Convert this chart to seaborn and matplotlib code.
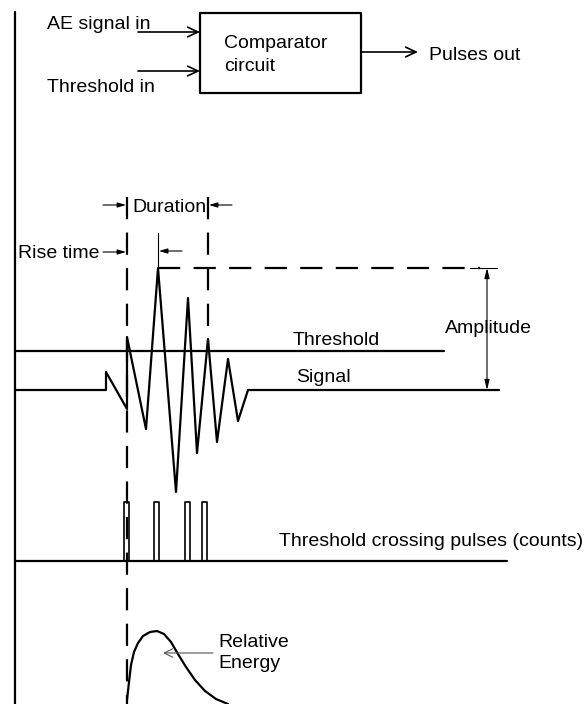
import matplotlib
matplotlib.use("Agg")
import matplotlib.pyplot as plt
import seaborn as sns
import pandas as pd

sns.set_theme(style="white")
plt.rcParams['font.family'] = ['Liberation Sans', 'DejaVu Sans']
plt.rcParams['text.color'] = 'black'

# ---- data (diagram coordinates, pixel space) ----
signal_t = [15, 106, 106, 127, 127, 146, 158, 176, 188, 197, 208, 217, 228, 238, 248, 499]
signal_v = [390, 390, 372, 409, 337, 429, 268, 492, 298, 453, 339, 442, 359, 421, 390, 390]
threshold_level = 351
pulse_starts = [124, 154, 185, 202]
pulse_width = 5
pulse_top = 502
pulse_base = 561
energy_t = [127, 129, 131, 134, 138, 143, 150, 157, 164, 171, 178, 186, 195, 205, 216, 228]
energy_v = [700, 682, 665, 652, 643, 636, 632, 631, 634, 642, 654, 667, 680, 691, 699, 704]
labels = {
    "ae": "AE signal in", "thr_in": "Threshold in", "comp1": "Comparator",
    "comp2": "circuit", "pulses": "Pulses out", "duration": "Duration",
    "rise": "Rise time", "threshold": "Threshold", "signal": "Signal",
    "amplitude": "Amplitude", "counts": "Threshold crossing pulses (counts)",
    "rel": "Relative", "energy": "Energy",
}

W, H = 587, 704
fig = plt.figure(figsize=(W / 100, H / 100), dpi=100)
ax = fig.add_axes([0, 0, 1, 1])
ax.set_xlim(0, W)
ax.set_ylim(H, 0)
ax.axis("off")

K = "black"
LW = 1.6
FS = 14

# left vertical line
ax.plot([15, 15], [12, 704], color=K, lw=LW)

# comparator box
ax.plot([200, 361, 361, 200, 200], [12.5, 12.5, 92.5, 92.5, 12.5], color=K, lw=LW)
ax.text(224, 47.5, labels["comp1"], fontsize=FS, va="baseline", ha="left", color=K)
ax.text(224, 71, labels["comp2"], fontsize=FS, va="baseline", ha="left", color=K)
openarrow = dict(arrowstyle="->,head_length=0.75,head_width=0.35", lw=1.2, color=K,
                 shrinkA=0, shrinkB=0, mutation_scale=10)
ax.annotate("", xy=(200, 32), xytext=(138, 32), arrowprops=openarrow)
ax.annotate("", xy=(200, 71), xytext=(138, 71), arrowprops=openarrow)
ax.annotate("", xy=(418, 52), xytext=(361, 52), arrowprops=openarrow)
ax.text(47, 29, labels["ae"], fontsize=FS, va="baseline", ha="left", color=K)
ax.text(47, 92, labels["thr_in"], fontsize=FS, va="baseline", ha="left", color=K)
ax.text(429, 60, labels["pulses"], fontsize=FS, va="baseline", ha="left", color=K)

# dashed guide lines
dash = (0, (10, 6))
ax.plot([127, 127], [197, 704], color=K, lw=LW, linestyle=dash)
ax.plot([208, 208], [197, 348], color=K, lw=LW, linestyle=dash)
ax.plot([158, 480], [268, 268], color=K, lw=LW, linestyle=dash)
ax.plot([470, 497], [268, 268], color=K, lw=0.8)

# duration / rise-time markers
small = dict(arrowstyle="-|>,head_length=0.5,head_width=0.15", lw=0.8, color=K,
             shrinkA=0, shrinkB=0, mutation_scale=10)
ax.annotate("", xy=(126, 205), xytext=(103, 205), arrowprops=small)
ax.annotate("", xy=(209, 205), xytext=(232, 205), arrowprops=small)
ax.text(132, 212, labels["duration"], fontsize=FS, va="baseline", ha="left", color=K)
ax.annotate("", xy=(126, 252), xytext=(103, 252), arrowprops=small)
ax.text(18, 258, labels["rise"], fontsize=FS, va="baseline", ha="left", color=K)
ax.plot([158, 158], [233, 268], color=K, lw=0.8)
ax.annotate("", xy=(159, 251), xytext=(182, 251), arrowprops=small)

# amplitude
amp = dict(arrowstyle="<|-|>,head_length=0.6,head_width=0.15", lw=0.8, color=K,
           shrinkA=0, shrinkB=0, mutation_scale=10)
ax.annotate("", xy=(487, 268), xytext=(487, 390), arrowprops=amp)
ax.plot([487, 487], [312, 345], color="white", lw=4)
ax.text(445, 333, labels["amplitude"], fontsize=FS, va="baseline", ha="left", color=K)

# threshold line and signal
ax.plot([15, 444], [threshold_level, threshold_level], color=K, lw=LW)
ax.text(293, 345, labels["threshold"], fontsize=FS, va="baseline", ha="left", color=K)
sig = pd.DataFrame({"t": signal_t, "v": signal_v})
sns.lineplot(data=sig, x="t", y="v", sort=False, estimator=None, color=K, lw=LW, ax=ax)
ax.text(296, 382, labels["signal"], fontsize=FS, va="baseline", ha="left", color=K)

# threshold crossing pulses
ax.plot([15, 507], [pulse_base, pulse_base], color=K, lw=LW)
for s in pulse_starts:
    ax.plot([s, s, s + pulse_width, s + pulse_width],
            [pulse_base, pulse_top, pulse_top, pulse_base], color=K, lw=1.2)
ax.text(279, 546, labels["counts"], fontsize=FS, va="baseline", ha="left", color=K)

# relative energy
en = pd.DataFrame({"t": energy_t, "v": energy_v})
sns.lineplot(data=en, x="t", y="v", sort=False, estimator=None, color=K, lw=LW, ax=ax)
gray = dict(arrowstyle="->,head_length=0.6,head_width=0.3", lw=0.8, color="#555555",
            shrinkA=0, shrinkB=0, mutation_scale=10)
ax.annotate("", xy=(163, 653), xytext=(213, 653), arrowprops=gray)
ax.text(218, 647, labels["rel"], fontsize=FS, va="baseline", ha="left", color=K)
ax.text(218, 668, labels["energy"], fontsize=FS, va="baseline", ha="left", color=K)

ax.set_xlim(0, W)
ax.set_ylim(H, 0)
ax.axis("off")
fig.savefig("out.png", dpi=100)
